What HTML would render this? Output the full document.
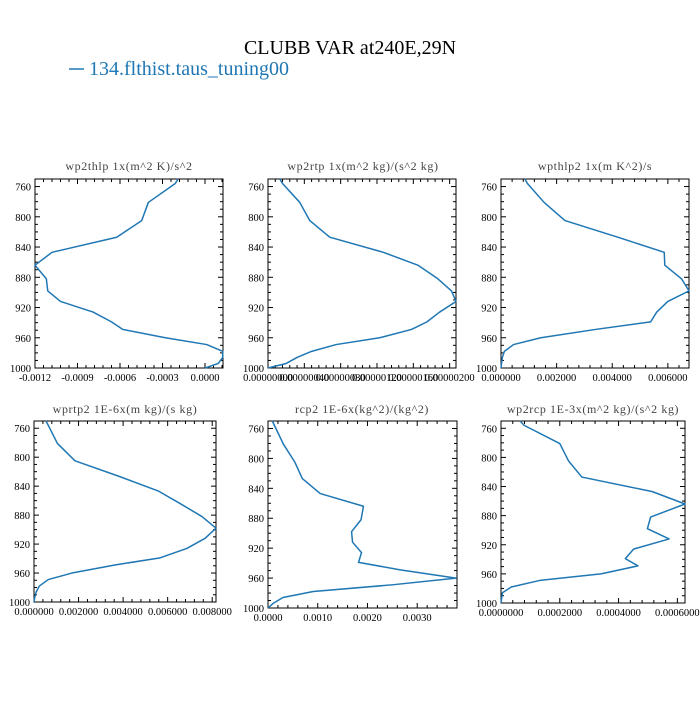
<!DOCTYPE html>
<html><head><meta charset="utf-8"><style>
body{margin:0;background:#fff;width:700px;height:700px;overflow:hidden}
svg text{font-family:"Liberation Serif",serif}
</style></head><body>
<svg id="chart" width="700" height="700" viewBox="0 0 700 700" xmlns="http://www.w3.org/2000/svg">
<text x="350" y="54" text-anchor="middle" font-size="20" fill="#000">CLUBB VAR at240E,29N</text>
<g>
<line x1="69" y1="69" x2="84" y2="69" stroke="#1f77b4" stroke-width="1.5"/>
<text x="89" y="75" font-size="20" fill="#1f77b4">134.flthist.taus_tuning00</text>
</g>
</svg>
<script>
const levels = [750,756,781,805,827,847,864,882,898,912,926,939,949,960,969,978,986,994,1000];
const wp2thlpVals = [-0.00019,-0.00021,-0.0004,-0.000447,-0.000623,-0.00108,-0.0012,-0.00112,-0.00111,-0.00102,-0.00079,-0.00066,-0.00058,-0.00028,0.000012,0.000125,0.000125,0.000094,0];
const wp2rtpVals = [0.13e-6,0.16e-6,0.35e-6,0.46e-6,0.68e-6,1.27e-6,1.65e-6,1.87e-6,2.02e-6,2.07e-6,1.89e-6,1.75e-6,1.58e-6,1.23e-6,0.75e-6,0.48e-6,0.32e-6,0.2e-6,0];
const wpthlp2Vals = [0.00086,0.00095,0.00155,0.0023,0.0042,0.00587,0.00589,0.00649,0.00676,0.006,0.0056,0.00538,0.0034,0.00143,0.00045,0.00012,0.00005,0.00002,0];
const wprtp2Vals = [0.00054,0.00064,0.00105,0.00184,0.00387,0.0056,0.00656,0.00754,0.00817,0.00768,0.00686,0.00566,0.0036,0.0017,0.00064,0.00024,0.0001,0.00003,0];
const rcp2Vals = [0.000087,0.00013,0.00031,0.00054,0.00069,0.00105,0.00192,0.00187,0.00168,0.0017,0.00188,0.00182,0.00266,0.00378,0.0025,0.00091,0.0003,0.0001,0];
const wp2rcpVals = [0.000065,0.000079,0.0002,0.00023,0.000275,0.000515,0.000626,0.000509,0.000498,0.000572,0.000451,0.000423,0.000466,0.00034,0.000132,0.000035,0.000005,0.000002,0];
const yTicks = [760,800,840,880,920,960,1000];
const xTicks1 = ["-0.0012","-0.0009","-0.0006","-0.0003","0.0000"];
const xTicks2 = ["0.00000000","0.00000040","0.00000080","0.00000120","0.00000160","0.00000200"];
const xTicks3 = ["0.000000","0.002000","0.004000","0.006000"];
const xTicks4 = ["0.000000","0.002000","0.004000","0.006000","0.008000"];
const xTicks5 = ["0.0000","0.0010","0.0020","0.0030"];
const xTicks6 = ["0.0000000","0.0002000","0.0004000","0.0006000"];

const panels = [
 {name:"wp2thlp",title:"wp2thlp  1x(m^2 K)/s^2",vals:wp2thlpVals,ticks:xTicks1,x0:35,x1:223,y0:179,y1:368,xmin:-0.0012,xmax:0.000127,tcx:129,ty:170},
 {name:"wp2rtp",title:"wp2rtp  1x(m^2 kg)/(s^2 kg)",vals:wp2rtpVals,ticks:xTicks2,x0:268,x1:456,y0:179,y1:368,xmin:0,xmax:2.07e-6,tcx:363,ty:170},
 {name:"wpthlp2",title:"wpthlp2  1x(m K^2)/s",vals:wpthlp2Vals,ticks:xTicks3,x0:501,x1:689,y0:179,y1:368,xmin:0,xmax:0.00676,tcx:595,ty:170},
 {name:"wprtp2",title:"wprtp2  1E-6x(m kg)/(s kg)",vals:wprtp2Vals,ticks:xTicks4,x0:34,x1:216,y0:421,y1:602,xmin:0,xmax:0.00817,tcx:125,ty:413},
 {name:"rcp2",title:"rcp2  1E-6x(kg^2)/(kg^2)",vals:rcp2Vals,ticks:xTicks5,x0:268,x1:457,y0:421,y1:608,xmin:0,xmax:0.00380,tcx:362,ty:413},
 {name:"wp2rcp",title:"wp2rcp  1E-3x(m^2 kg)/(s^2 kg)",vals:wp2rcpVals,ticks:xTicks6,x0:501,x1:685,y0:421,y1:603,xmin:0,xmax:0.000626,tcx:593,ty:413}
];
const NS="http://www.w3.org/2000/svg";
const svg=document.getElementById('chart');
function mk(tag,attrs,parent){const e=document.createElementNS(NS,tag);for(const k in attrs)e.setAttribute(k,attrs[k]);parent.appendChild(e);return e;}
panels.forEach(p=>{
 const g=mk('g',{},svg);
 
 
 const xs=v=>p.x0+(v-p.xmin)/(p.xmax-p.xmin)*(p.x1-p.x0);
 const ys=pr=>p.y0+(pr-750)/250*(p.y1-p.y0);
 const t=mk('text',{x:p.tcx,y:p.ty,'text-anchor':'middle','font-size':12,fill:'#444','letter-spacing':'0.6','font-family':'"DejaVu Sans","Liberation Sans",sans-serif'},g);
 t.textContent=p.title;
 
 
 const box=mk('rect',{x:p.x0,y:p.y0,width:p.x1-p.x0,height:p.y1-p.y0,fill:'none',stroke:'#000','stroke-width':1},g);
 
 
 // y ticks
 for(let pr=750;pr<=1000;pr+=10){
  const y=ys(pr);const major=(pr%40===0)&&pr>=760;const L=major?5:3;
  mk('line',{x1:p.x0,y1:y,x2:p.x0+L,y2:y,stroke:'#000','stroke-width':1},g);
  mk('line',{x1:p.x1,y1:y,x2:p.x1-L,y2:y,stroke:'#000','stroke-width':1},g);
 }
 yTicks.forEach(v=>{
  const tx=mk('text',{x:p.x0-4,y:ys(v)+4,'text-anchor':'end','font-size':10.5,fill:'#000'},g);
  tx.textContent=v;
  
  
 });
 // x ticks
 const n=p.ticks.length;
 const vals=p.ticks.map(s=>parseFloat(s));
 const step=vals[1]-vals[0];
 for(let i=0;i<n;i++){
  for(let k=0;k<5;k++){
   const v=vals[i]+k*step/5;
   if(v>p.xmax+1e-12)continue;
   const x=xs(v);const L=k===0?5:3;
   mk('line',{x1:x,y1:p.y1,x2:x,y2:p.y1-L,stroke:'#000','stroke-width':1},g);
   mk('line',{x1:x,y1:p.y0,x2:x,y2:p.y0+L,stroke:'#000','stroke-width':1},g);
  }
  const tx=mk('text',{x:xs(vals[i]),y:p.y1+13,'text-anchor':'middle','font-size':10.5,fill:'#000'},g);
  tx.textContent=p.ticks[i];
  
  
 }
 const d=p.vals.map((v,i)=>(i?'L':'M')+xs(v).toFixed(2)+','+ys(levels[i]).toFixed(2)).join(' ');
 const path=mk('path',{d:d,fill:'none',stroke:'#1f77b4','stroke-width':1.5,'stroke-linejoin':'round'},g);
 
 
});
</script>
</body></html>
